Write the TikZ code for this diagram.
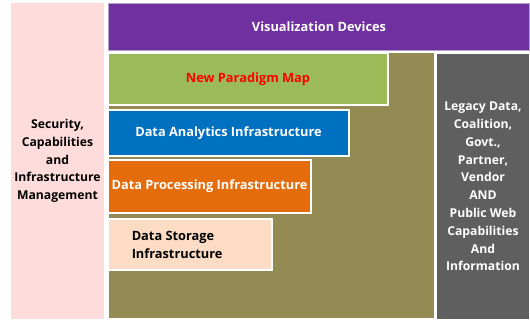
\documentclass[tikz,border=0pt]{standalone}
\usepackage{fontspec}
\setmainfont{Open Sans}
\usepackage{xcolor}
\usepackage{tikz}
\usetikzlibrary{shapes,positioning}
\definecolor{secpink}{HTML}{FFDCDC}
\definecolor{vispurple}{HTML}{7030A0}
\definecolor{visedge}{HTML}{B3A2C7}
\definecolor{mapgreen}{HTML}{9BBB59}
\definecolor{anablue}{HTML}{0070C0}
\definecolor{procorange}{HTML}{E46C0A}
\definecolor{storpeach}{HTML}{FCDCC4}
\definecolor{baseolive}{HTML}{948A54}
\definecolor{leggray}{HTML}{5F5F5F}
\tikzset{blk/.style={rectangle,draw=white,line width=1.5pt,inner sep=2pt,align=center,
  font=\fontsize{12.8}{17.5}\selectfont\bfseries},
  side/.style={blk,font=\fontsize{12.2}{17.8}\selectfont\bfseries}}

\begin{document}
\begin{tikzpicture}[x=1pt,y=-1pt]
    \useasboundingbox (0,0) rectangle (530,320);
    \node[blk,fill=baseolive,minimum width=327pt,minimum height=267pt] (base) at (271.5,185.5) {};
    \node[side,fill=secpink,draw=none,minimum width=93pt,minimum height=315pt] (sec) at (57.5,161) {Security,\\Capabilities\\and\\Infrastructure\\Management};
    \node[blk,fill=vispurple,draw=visedge,line width=0.8pt,text=white,minimum width=421pt,minimum height=47pt] (vis) at (319,26.5) {Visualization Devices};
    \node[blk,fill=mapgreen,text=red,minimum width=280pt,minimum height=52pt] (map) at (248,79) {New Paradigm Map};
    \node[blk,fill=anablue,text=white,minimum width=241pt,minimum height=46pt] (ana) at (228.5,133) {Data Analytics Infrastructure};
    \node[blk,fill=procorange,text=white,minimum width=203pt,minimum height=53pt] (proc) at (209.5,186.5) {Data Processing Infrastructure};
    \node[blk,fill=storpeach,minimum width=164pt,minimum height=51pt] (stor) at (190,244.5) {};
    \node[blk,draw=none,align=left,anchor=west] (stortxt) at (129,245) {Data Storage\\Infrastructure};
    \node[side,fill=leggray,text=white,minimum width=94pt,minimum height=267pt] (leg) at (483,186.5) {Legacy Data,\\Coalition,\\Govt.,\\Partner,\\Vendor\\AND\\Public Web\\Capabilities\\And\\Information};
\end{tikzpicture}
\end{document}
